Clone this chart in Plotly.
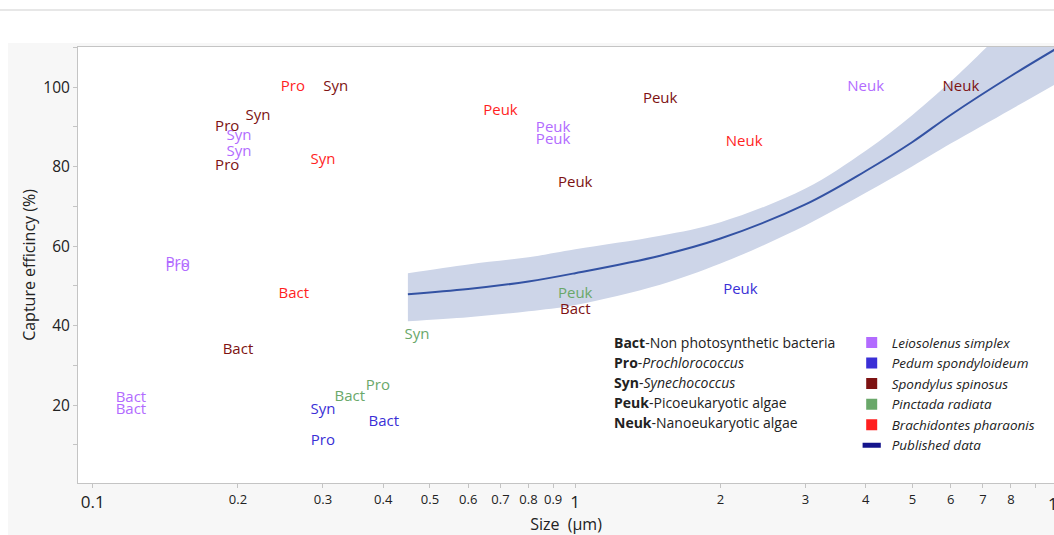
import plotly.graph_objects as go

# ---------------- data ----------------
species = ["Leiosolenus simplex", "Pedum spondyloideum", "Spondylus spinosus",
           "Pinctada radiata", "Brachidontes pharaonis"]
species_colors = ["#b26bff", "#3a2fd6", "#7d1212", "#6aa86a", "#ff1f1f"]

leio_labels = ["Bact", "Bact", "Pro", "Pro", "Syn", "Syn", "Peuk", "Peuk", "Neuk"]
leio_size = [0.120, 0.120, 0.150, 0.150, 0.201, 0.201, 0.90, 0.90, 4.0]
leio_eff = [21.7, 18.8, 55.7, 54.8, 87.7, 83.7, 89.7, 86.7, 100.0]

pedum_labels = ["Syn", "Pro", "Bact", "Peuk"]
pedum_size = [0.300, 0.300, 0.401, 2.20]
pedum_eff = [18.8, 10.9, 15.8, 48.8]

spond_labels = ["Pro", "Pro", "Syn", "Syn", "Bact", "Peuk", "Bact", "Peuk", "Neuk"]
spond_size = [0.190, 0.190, 0.220, 0.319, 0.200, 1.0, 1.0, 1.50, 6.3]
spond_eff = [89.8, 80.0, 92.8, 99.9, 33.9, 75.8, 43.8, 97.0, 100.0]

pinc_labels = ["Syn", "Pro", "Bact", "Peuk"]
pinc_size = [0.47, 0.39, 0.341, 1.0]
pinc_eff = [37.7, 24.8, 21.9, 47.9]

brach_labels = ["Pro", "Syn", "Bact", "Peuk", "Neuk"]
brach_size = [0.260, 0.300, 0.261, 0.70, 2.24]
brach_eff = [99.9, 81.7, 47.9, 93.9, 86.1]

pub_name = "Published data"
pub_size = [0.45, 0.6, 0.8, 1.0, 1.5, 2, 3, 4, 5, 6, 8, 10]
pub_fit = [47.9, 49.2, 51.1, 53.2, 57.6, 61.9, 70.5, 78.9, 86.2, 93.0, 102.8, 109.9]
pub_upper = [53.2, 55.4, 57.2, 59.2, 62.6, 66.0, 74.5, 84.0, 93.0, 101.4, 115.9, 126.5]
pub_lower = [41.1, 42.1, 43.6, 45.2, 50.3, 55.6, 65.2, 73.4, 80.1, 85.8, 94.4, 101.1]

abbr = ["Bact", "Pro", "Syn", "Peuk", "Neuk"]
abbr_meaning = ["Non photosynthetic bacteria", "<i>Prochlorococcus</i>",
                "<i>Synechococcus</i>", "Picoeukaryotic algae", "Nanoeukaryotic algae"]

x_major_vals = [0.1, 1]
x_major_text = ["0.1", "1"]
x_minor_vals = [0.2, 0.3, 0.4, 0.5, 0.6, 0.7, 0.8, 0.9, 2, 3, 4, 5, 6, 7, 8, 9]
x_minor_text = ["0.2", "0.3", "0.4", "0.5", "0.6", "0.7", "0.8", "0.9",
                "2", "3", "4", "5", "6", "7", "8", ""]
y_tick_vals = [20, 40, 60, 80, 100]

x_title = "Size  (μm)"
y_title = "Capture efficincy (%)"

# ---------------- layout constants ----------------
W, H = 1054, 535
ML, MR, MT, MB = 78, 0, 47, 52
PW, PH = W - ML - MR, H - MT - MB
FONT = "Open Sans, Noto Sans, sans-serif"
NARROW = "Liberation Sans Narrow, Arial Narrow, Open Sans, sans-serif"
AXIS_GRAY = "#c4c4c4"
TXT = "#222222"


def px_x(p):
    return (p - ML) / PW


def px_y(p):
    return (H - MB - p) / PH


fig = go.Figure()

# confidence band + fitted curve (main x axis, drawn underneath)
fig.add_trace(go.Scatter(x=pub_size, y=pub_upper, mode="lines", line=dict(width=0, shape="spline"),
                         showlegend=False, hoverinfo="skip"))
fig.add_trace(go.Scatter(x=pub_size, y=pub_lower, mode="lines", line=dict(width=0, shape="spline"),
                         fill="tonexty", fillcolor="#cdd5e8", showlegend=False, hoverinfo="skip"))
fig.add_trace(go.Scatter(x=pub_size, y=pub_fit, mode="lines",
                         line=dict(color="#3352a3", width=2, shape="spline"),
                         showlegend=False, name=pub_name))

# text-labelled points (overlay x axis, drawn on top)
series = [
    (leio_labels, leio_size, leio_eff),
    (pedum_labels, pedum_size, pedum_eff),
    (spond_labels, spond_size, spond_eff),
    (pinc_labels, pinc_size, pinc_eff),
    (brach_labels, brach_size, brach_eff),
]
for name, col, (lab, xs, ys) in zip(species, species_colors, series):
    fig.add_trace(go.Scatter(x=xs, y=ys, text=lab, mode="text", textposition="middle center",
                             textfont=dict(family=FONT, size=15, color=col), xaxis="x2",
                             name=name, showlegend=False, cliponaxis=False))

# legend entries
for name, col in zip(species, species_colors):
    fig.add_trace(go.Scatter(x=[None], y=[None], mode="markers", name="<i>%s</i>" % name,
                             marker=dict(symbol="square", size=11, color=col)))
fig.add_trace(go.Scatter(x=[None], y=[None], mode="markers", name="<i>%s</i>" % pub_name,
                         marker=dict(symbol="line-ew", size=13,
                                     line=dict(color="#14148c", width=5))))

# abbreviations key
for i, (a, m) in enumerate(zip(abbr, abbr_meaning)):
    fig.add_annotation(xref="paper", yref="paper", x=px_x(612), y=px_y(342.7 + 20 * i),
                       xanchor="left", yanchor="middle", showarrow=False, align="left",
                       text="<b>%s</b>-%s" % (a, m), font=dict(family=FONT, size=14, color=TXT))

# cut-off "10" decade label at right edge
fig.add_annotation(xref="paper", yref="paper", x=px_x(1057.7), y=px_y(503),
                   xanchor="center", yanchor="middle", showarrow=False,
                   text="10", font=dict(family=FONT, size=17, color=TXT))

# background panel (light grey) and top separator
shapes = [
    dict(type="rect", xref="paper", yref="paper", x0=px_x(0), x1=px_x(W), y0=px_y(43), y1=px_y(0),
         fillcolor="white", line=dict(width=0), layer="below"),
    dict(type="rect", xref="paper", yref="paper", x0=px_x(0), x1=px_x(8), y0=px_y(H), y1=px_y(0),
         fillcolor="white", line=dict(width=0), layer="below"),
    dict(type="line", xref="paper", yref="paper", x0=px_x(0), x1=px_x(W), y0=px_y(10), y1=px_y(10),
         line=dict(color="#d0d0d0", width=1.2)),
]

xr = [-1.0305, 0.9923]
fig.update_layout(
    width=W, height=H,
    margin=dict(l=ML, r=MR, t=MT, b=MB),
    paper_bgcolor="#f7f7f7", plot_bgcolor="white",
    shapes=shapes,
    showlegend=True,
    legend=dict(x=px_x(851.7), y=px_y(327.2), xanchor="left", yanchor="top", traceorder="normal",
                bgcolor="rgba(0,0,0,0)", font=dict(family=FONT, size=13.5, color=TXT),
                tracegroupgap=0),
    xaxis=dict(type="log", range=xr, tickmode="array", tickvals=x_major_vals, ticktext=x_major_text,
               tickfont=dict(family=FONT, size=17, color=TXT), ticks="outside", ticklen=4,
               tickcolor=AXIS_GRAY, showline=True, linecolor=AXIS_GRAY, linewidth=1, mirror=True,
               showgrid=False, zeroline=False, ticklabelstandoff=0,
               title=dict(text=x_title, font=dict(family=FONT, size=16, color=TXT), standoff=4)),
    xaxis2=dict(type="log", range=xr, overlaying="x", anchor="y", side="bottom",
                tickmode="array", tickvals=x_minor_vals, ticktext=x_minor_text,
                tickfont=dict(family=NARROW, size=13, color=TXT), ticks="outside", ticklen=4,
                tickcolor=AXIS_GRAY, showline=False, showgrid=False, zeroline=False),
    yaxis=dict(range=[0.4, 110.1], tickmode="array", tickvals=y_tick_vals,
               tickfont=dict(family=FONT, size=15.5, color=TXT), ticks="outside", ticklen=4,
               tickcolor=AXIS_GRAY, showline=True, linecolor=AXIS_GRAY, linewidth=1,
               showgrid=False, zeroline=False,
               minor=dict(dtick=10, tick0=0, ticks="outside", ticklen=4, tickcolor=AXIS_GRAY, showgrid=False),
               title=dict(text=y_title, font=dict(family=FONT, size=16, color=TXT), standoff=3)),
)

fig.write_html("out.html", config={"displayModeBar": False},
               post_script="document.body.style.margin='0';document.body.style.overflow='hidden';")
